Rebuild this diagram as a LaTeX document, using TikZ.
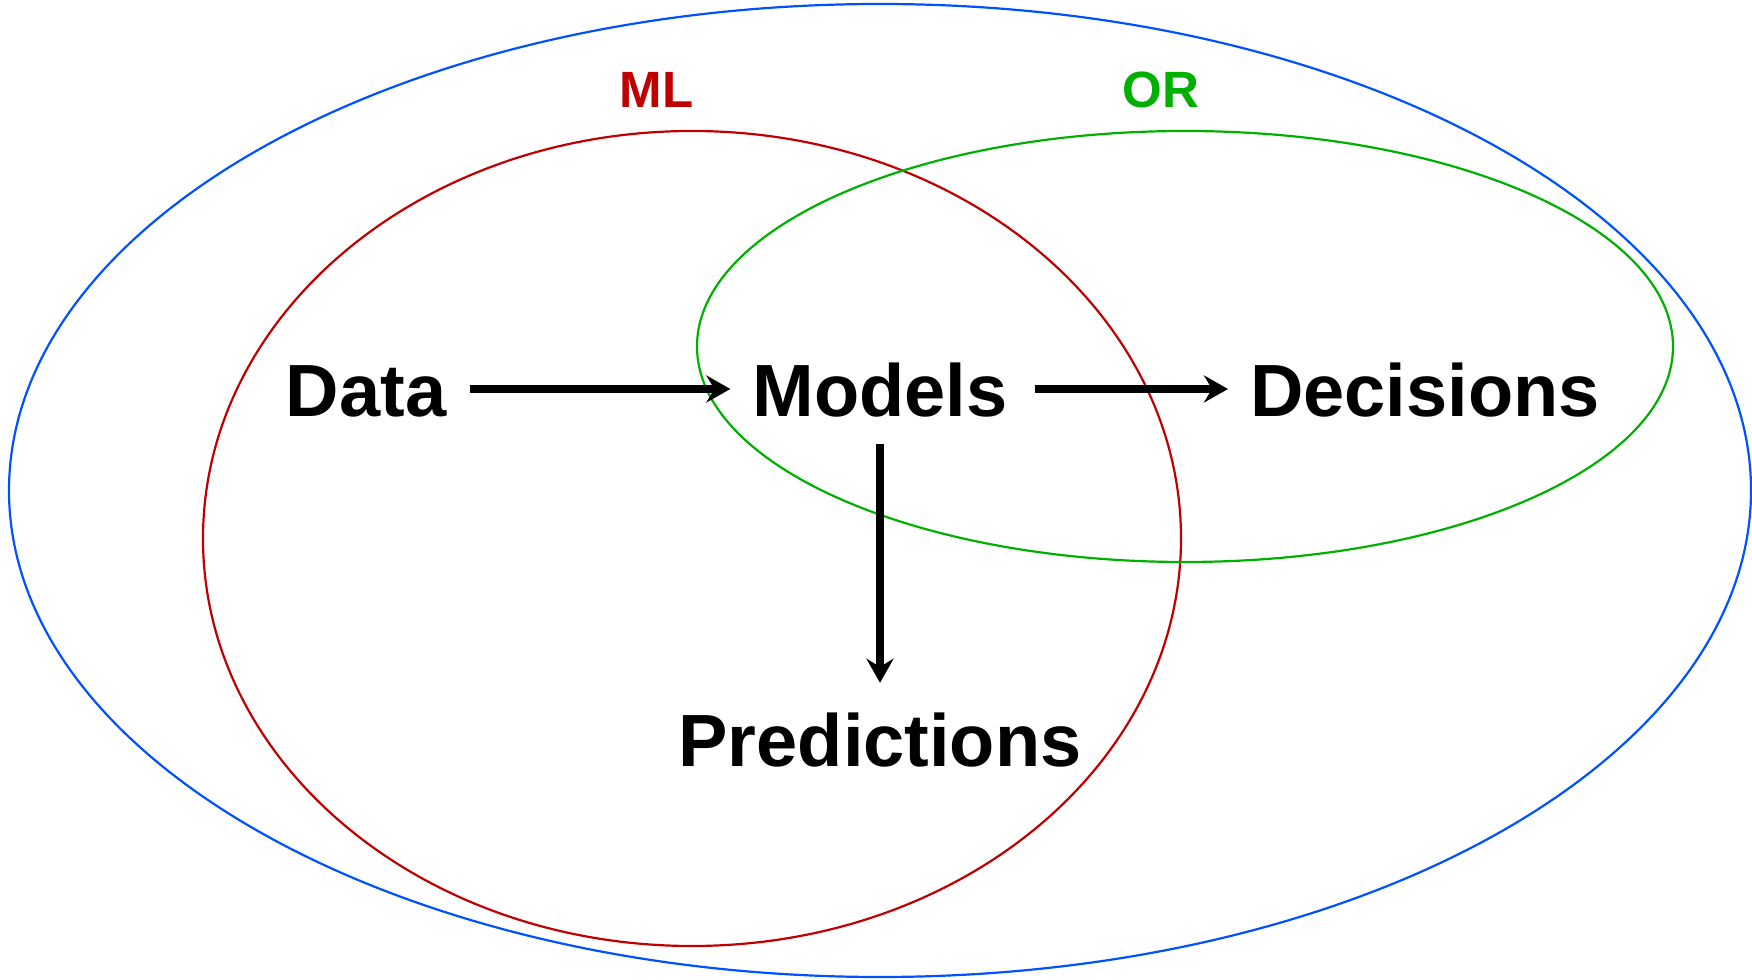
\documentclass[tikz,border=0pt]{standalone}
\usepackage{fontspec}
\setmainfont{Liberation Sans}
\usetikzlibrary{arrows.meta}
\definecolor{mlred}{RGB}{192,0,0}
\definecolor{orgreen}{RGB}{0,176,0}
\definecolor{allblue}{RGB}{0,82,255}
\tikzset{
  big/.style={inner sep=0pt, anchor=base, font=\fontsize{74pt}{74pt}\selectfont\bfseries, text height=56pt, text depth=0pt},
  small/.style={inner sep=0pt, anchor=base, font=\fontsize{51pt}{51pt}\selectfont\bfseries},
  arr/.style={line width=7.5pt, -{Stealth[length=24pt,width=27pt,inset=8pt]}},
  ring/.style={line width=2.2pt}
}
\begin{document}
\begin{tikzpicture}[x=1pt,y=1pt]
\useasboundingbox (0,0) rectangle (1752,979);
\draw[ring, allblue] (880,488.5) ellipse [x radius=871, y radius=486.5];
\draw[ring, mlred] (692,440.5) ellipse [x radius=489, y radius=407.5];
\draw[ring, orgreen] (1185,632.5) ellipse [x radius=488, y radius=215.5];
\node[small, text=mlred] (ml) at (656.5,871) {ML};
\node[small, text=orgreen] (or) at (1161,871) {OR};
\node[big] (data) at (366,562) {Data};
\node[big] (models) at (880,562) {Models};
\node[big] (decisions) at (1425,562) {Decisions};
\node[big] (predictions) at (880,212) {Predictions};
\draw[arr, shorten <=24pt, shorten >=22pt] (data.east) -- (models.west);
\draw[arr, shorten <=27pt, shorten >=22pt] (models.east) -- (decisions.west);
\draw[arr, shorten <=27pt, shorten >=28pt] (models.south) -- (predictions.north);
\end{tikzpicture}
\end{document}
